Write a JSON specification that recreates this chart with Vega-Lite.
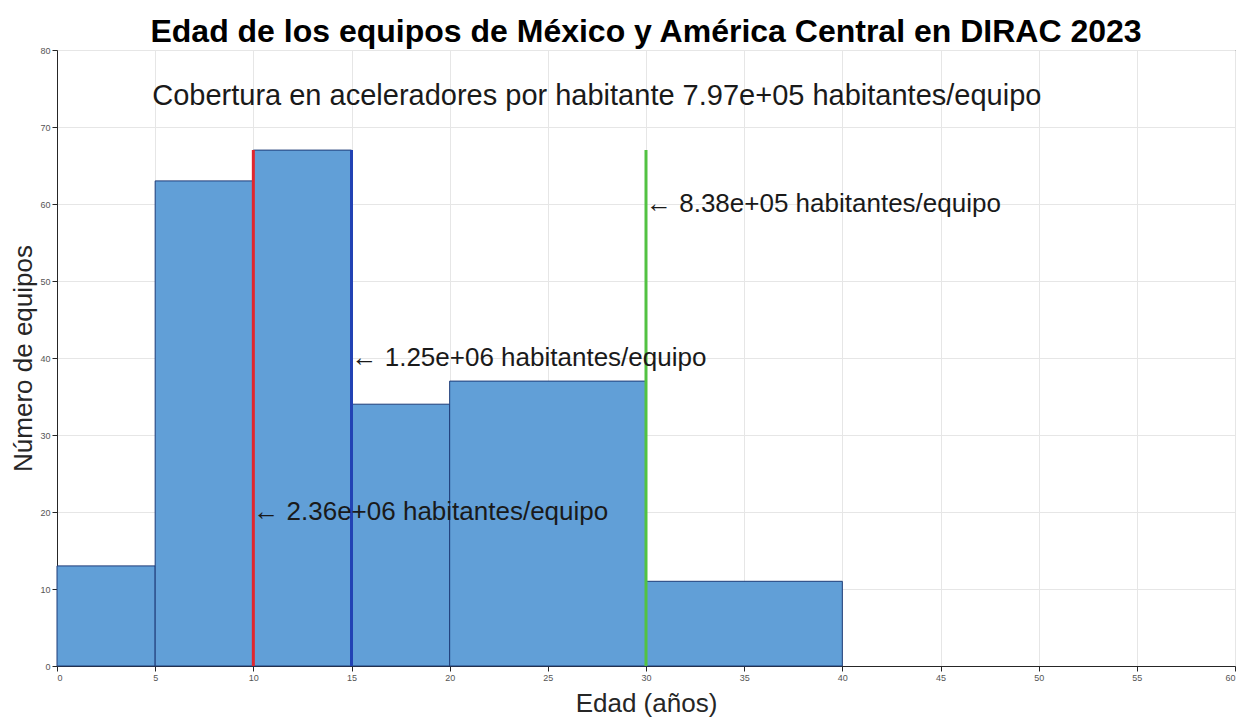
{
  "$schema": "https://vega.github.io/schema/vega-lite/v6.json",
  "autosize": "none",
  "padding": {"left": 57, "top": 50, "right": 6, "bottom": 51},
  "width": 1178,
  "height": 616,
  "background": "white",
  "config": {
    "font": "Liberation Sans",
    "view": {"stroke": "#262626", "strokeWidth": 1},
    "axis": {
      "grid": true,
      "gridColor": "#e6e6e6",
      "domainColor": "#262626",
      "tickColor": "#262626",
      "labelColor": "#555555",
      "labelFontSize": 9,
      "titleColor": "#262626",
      "titleFontWeight": "normal",
      "titleFontSize": 26
    }
  },
  "title": {
    "text": "Edad de los equipos de México y América Central en DIRAC 2023",
    "fontSize": 32,
    "fontWeight": "bold",
    "color": "#000000",
    "anchor": "middle",
    "offset": -3
  },
  "datasets": {
    "bins": [
      {"desde": 0, "hasta": 5, "equipos": 13},
      {"desde": 5, "hasta": 10, "equipos": 63},
      {"desde": 10, "hasta": 15, "equipos": 67},
      {"desde": 15, "hasta": 20, "equipos": 34},
      {"desde": 20, "hasta": 30, "equipos": 37},
      {"desde": 30, "hasta": 40, "equipos": 11}
    ],
    "lineas": [
      {"edad": 10, "alto": 67, "color": "#e0262e", "etiqueta": "← 2.36e+06 habitantes/equipo", "ty": 20},
      {"edad": 15, "alto": 67, "color": "#2242b4", "etiqueta": "← 1.25e+06 habitantes/equipo", "ty": 40},
      {"edad": 30, "alto": 67, "color": "#52c242", "etiqueta": "← 8.38e+05 habitantes/equipo", "ty": 60}
    ],
    "nota": [
      {"x": 4.85, "y": 74, "texto": "Cobertura en aceleradores por habitante 7.97e+05 habitantes/equipo"}
    ]
  },
  "layer": [
    {
      "data": {"name": "bins"},
      "mark": {"type": "rect", "fill": "#619fd7", "stroke": "#1e3c78", "strokeWidth": 1},
      "encoding": {
        "x": {
          "field": "desde",
          "type": "quantitative",
          "scale": {"domain": [0, 60], "nice": false},
          "axis": {"values": [0, 5, 10, 15, 20, 25, 30, 35, 40, 45, 50, 55, 60], "tickSize": 5, "labelPadding": 2, "title": "Edad (años)", "titlePadding": 8}
        },
        "x2": {"field": "hasta"},
        "y": {
          "field": "equipos",
          "type": "quantitative",
          "scale": {"domain": [0, 80], "nice": false},
          "axis": {"values": [0, 10, 20, 30, 40, 50, 60, 70, 80], "tickSize": 5, "labelPadding": 2, "title": "Número de equipos", "titlePadding": 3}
        },
        "y2": {"datum": 0}
      }
    },
    {
      "data": {"name": "lineas"},
      "mark": {"type": "rule", "strokeWidth": 3},
      "encoding": {
        "x": {"field": "edad", "type": "quantitative"},
        "y": {"field": "alto", "type": "quantitative"},
        "y2": {"datum": 0},
        "color": {"field": "color", "type": "nominal", "scale": null}
      }
    },
    {
      "data": {"name": "lineas"},
      "mark": {"type": "text", "align": "left", "baseline": "middle", "fontSize": 26, "color": "#1a1a1a"},
      "encoding": {
        "x": {"field": "edad", "type": "quantitative"},
        "y": {"field": "ty", "type": "quantitative"},
        "text": {"field": "etiqueta"}
      }
    },
    {
      "data": {"name": "nota"},
      "mark": {"type": "text", "align": "left", "baseline": "middle", "fontSize": 29, "color": "#1a1a1a"},
      "encoding": {
        "x": {"field": "x", "type": "quantitative"},
        "y": {"field": "y", "type": "quantitative"},
        "text": {"field": "texto"}
      }
    }
  ]
}
